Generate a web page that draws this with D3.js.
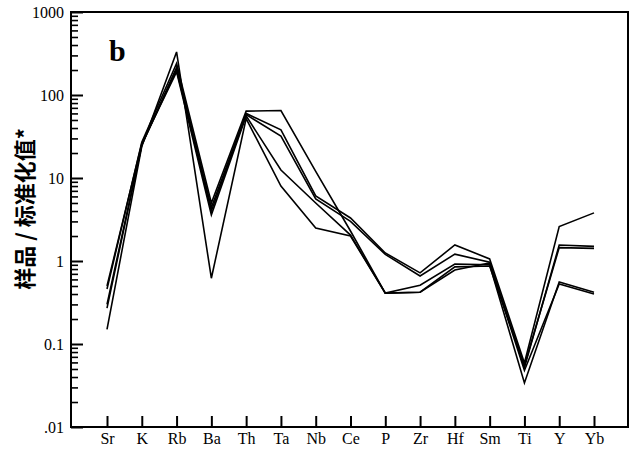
<!DOCTYPE html>
<html>
<head>
<meta charset="utf-8">
<script src="https://cdn.jsdelivr.net/npm/d3@7/dist/d3.min.js"></script>
<style>
  html, body { margin: 0; padding: 0; background: #fff; }
  svg { display: block; }
</style>
</head>
<body>
<svg id="chart" width="635" height="451"></svg>
<script>
// Trace elements on the spider diagram, in plotting order
const elements = ["Sr", "K", "Rb", "Ba", "Th", "Ta", "Nb", "Ce", "P", "Zr", "Hf", "Sm", "Ti", "Y", "Yb"];

// Normalised concentrations (sample / standard) for each sample
const sample1 = [0.46, 27, 240, 5.0, 64, 65, 12, 2.3, 0.41, 0.51, 0.92, 0.90, 0.034, 0.56, 0.42];
const sample2 = [0.30, 25, 215, 4.4, 60, 38, 6.1, 3.3, 1.25, 0.72, 1.56, 1.06, 0.059, 2.6, 3.8];
const sample3 = [0.27, 25, 200, 4.0, 58, 32, 5.6, 3.0, 1.2, 0.66, 1.21, 0.97, 0.052, 1.56, 1.50];
const sample4 = [0.50, 26, 190, 3.6, 56, 12.5, 5.0, 2.05, 0.41, 0.42, 0.85, 0.87, 0.055, 1.45, 1.42];
const sample5 = [0.15, 24, 330, 0.62, 52, 8.0, 2.5, 2.0, 0.41, 0.42, 0.78, 0.95, 0.048, 0.53, 0.40];

// Y axis tick values and labels
const yTicks = [0.01, 0.1, 1, 10, 100, 1000];
const yTickLabels = [".01", "0.1", "1", "10", "100", "1000"];

const samples = [sample1, sample2, sample3, sample4, sample5];

const svg = d3.select("#chart");
const frame = { left: 71, right: 628, top: 12, bottom: 427 };

const x = d3.scalePoint()
  .domain(elements)
  .range([107, 594]);

const y = d3.scaleLog()
  .domain([0.01, 1000])
  .range([frame.bottom, frame.top]);

const serif = "'Liberation Serif', 'Times New Roman', serif";

// Sample curves
const line = d3.line()
  .x((d, i) => x(elements[i]))
  .y(d => y(d));

svg.append("g")
  .selectAll("path")
  .data(samples)
  .join("path")
  .attr("d", line)
  .attr("fill", "none")
  .attr("stroke", "#000")
  .attr("stroke-width", 1.6)
  .attr("stroke-linejoin", "miter");

// Left axis: major ticks per decade, minor ticks for 2..9
const minor = [];
for (let e = -2; e < 3; e++) {
  for (let m = 2; m <= 9; m++) minor.push(m * Math.pow(10, e));
}

const yAxisMajor = d3.axisLeft(y)
  .tickValues(yTicks)
  .tickSize(-12)
  .tickPadding(7)
  .tickFormat((d, i) => yTickLabels[i]);

const gy = svg.append("g")
  .attr("transform", `translate(${frame.left},0)`)
  .call(yAxisMajor);
gy.select(".domain").remove();
gy.selectAll(".tick line").attr("stroke", "#000").attr("stroke-width", 2);
gy.selectAll(".tick text")
  .attr("font-family", serif)
  .attr("font-size", 16)
  .attr("fill", "#000");

const gyMinor = svg.append("g")
  .attr("transform", `translate(${frame.left},0)`)
  .call(d3.axisLeft(y).tickValues(minor).tickSize(-7).tickFormat(""));
gyMinor.select(".domain").remove();
gyMinor.selectAll(".tick line").attr("stroke", "#000").attr("stroke-width", 1.6);

// Bottom axis: one tick per element
const gx = svg.append("g")
  .attr("transform", `translate(0,${frame.bottom})`)
  .call(d3.axisBottom(x).tickSize(-11).tickPadding(6));
gx.select(".domain").remove();
gx.selectAll(".tick line").attr("stroke", "#000").attr("stroke-width", 2);
gx.selectAll(".tick text")
  .attr("font-family", serif)
  .attr("font-size", 16)
  .attr("dy", "0.71em")
  .attr("fill", "#000");

// Plot frame
svg.append("rect")
  .attr("x", frame.left)
  .attr("y", frame.top)
  .attr("width", frame.right - frame.left)
  .attr("height", frame.bottom - frame.top)
  .attr("fill", "none")
  .attr("stroke", "#000")
  .attr("stroke-width", 2);

// Panel letter
svg.append("text")
  .attr("x", 109)
  .attr("y", 61)
  .attr("font-family", serif)
  .attr("font-weight", "bold")
  .attr("font-size", 30)
  .attr("fill", "#000")
  .text("b");

// Y axis title
svg.append("text")
  .attr("transform", "translate(33,209) rotate(-90)")
  .attr("text-anchor", "middle")
  .attr("font-family", "'Noto Sans CJK SC', sans-serif")
  .attr("font-weight", "bold")
  .attr("font-size", 22)
  .attr("fill", "#000")
  .text("样品 / 标准化值*");
</script>
</body>
</html>
